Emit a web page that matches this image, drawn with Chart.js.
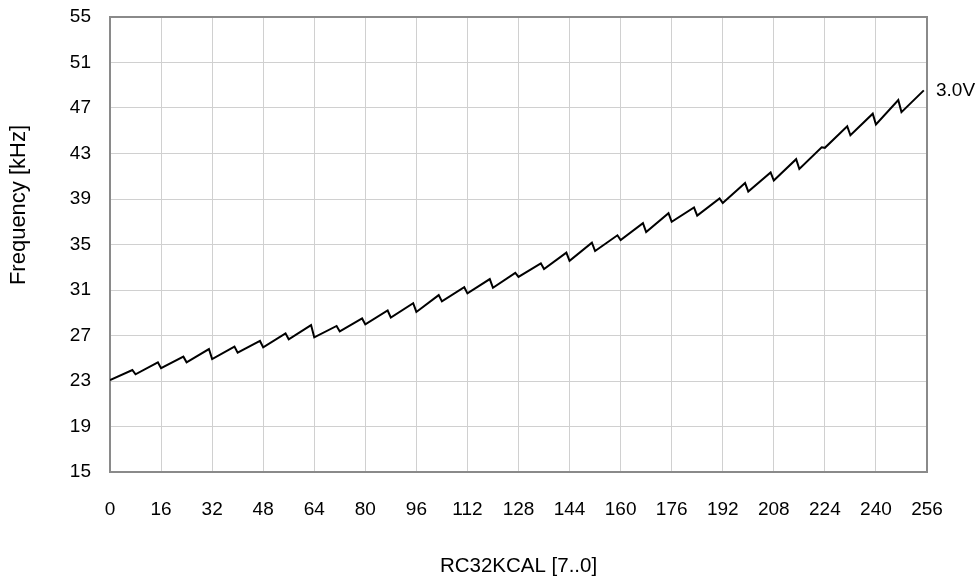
<!DOCTYPE html>
<html>
<head>
<meta charset="utf-8">
<script src="https://cdn.jsdelivr.net/npm/chart.js@4.4.0/dist/chart.umd.min.js"></script>
<style>
  html, body { margin: 0; padding: 0; background: #ffffff; }
  #wrap { width: 979px; height: 583px; position: relative; }
</style>
</head>
<body>
<div id="wrap"><canvas id="c"></canvas></div>
<script>
const codes = [0,7,8,15,16,23,24,31,32,39,40,47,48,55,56,63,64,71,72,79,80,87,88,95,96,103,104,111,112,119,120,127,128,135,136,143,144,151,152,159,160,167,168,175,176,183,184,191,192,199,200,207,208,215,216,223,224,231,232,239,240,247,248,255];
const freqKHz = [23.08,23.97,23.59,24.64,24.12,25.14,24.64,25.81,24.93,26.02,25.49,26.52,25.96,27.19,26.67,27.92,26.84,27.84,27.36,28.5,27.98,29.2,28.57,29.84,29.07,30.55,30.0,31.24,30.7,31.96,31.2,32.5,32.15,33.34,32.84,34.28,33.57,35.16,34.43,35.81,35.4,36.87,36.1,37.75,37.0,38.25,37.54,39.05,38.64,40.4,39.66,41.33,40.62,42.5,41.64,43.55,43.5,45.4,44.6,46.5,45.55,47.7,46.64,48.55];
const seriesLabel = '3.0V';
const xTicks = [0,16,32,48,64,80,96,112,128,144,160,176,192,208,224,240,256];
const yTicks = [15,19,23,27,31,35,39,43,47,51,55];
const xTitle = 'RC32KCAL [7..0]';
const yTitle = 'Frequency [kHz]';

const points = codes.map((c, i) => ({ x: c, y: freqKHz[i] }));
const FONT = "'Liberation Sans', Arial, sans-serif";

const frameAndLabel = {
  id: 'frameAndLabel',
  beforeDatasetsDraw(chart) {
    const { ctx, chartArea: a } = chart;
    ctx.save();
    ctx.strokeStyle = '#8a8a8a';
    ctx.lineWidth = 2;
    ctx.strokeRect(a.left, a.top, a.right - a.left, a.bottom - a.top);
    ctx.restore();
  },
  afterDatasetsDraw(chart) {
    const { ctx, chartArea: a, scales } = chart;
    const last = points[points.length - 1];
    const y = scales.y.getPixelForValue(last.y);
    ctx.save();
    ctx.fillStyle = '#000000';
    ctx.font = "19px " + FONT;
    ctx.textAlign = 'left';
    ctx.textBaseline = 'middle';
    ctx.fillText(seriesLabel, a.right + 9, y);
    ctx.restore();
    // vertical axis title (placed above the plot's mid-height, as in the reference)
    ctx.save();
    ctx.translate(19, 205);
    ctx.rotate(-Math.PI / 2);
    ctx.fillStyle = '#000000';
    ctx.font = "22px " + FONT;
    ctx.textAlign = 'center';
    ctx.textBaseline = 'middle';
    ctx.fillText(yTitle, 0, 0);
    ctx.restore();
  }
};

new Chart(document.getElementById('c'), {
  type: 'line',
  data: {
    datasets: [{
      label: seriesLabel,
      data: points,
      borderColor: '#000000',
      borderWidth: 2,
      pointRadius: 0,
      tension: 0,
      fill: false
    }]
  },
  options: {
    responsive: true,
    maintainAspectRatio: false,
    animation: false,
    devicePixelRatio: 1,
    layout: { padding: { top: 17, right: 52, left: 0, bottom: 0 } },
    plugins: { legend: { display: false }, tooltip: { enabled: false } },
    scales: {
      x: {
        type: 'linear',
        min: 0, max: 256,
        afterBuildTicks(scale) { scale.ticks = xTicks.map(v => ({ value: v })); },
        afterFit(scale) { scale.height = 111; scale.paddingLeft = 0; scale.paddingRight = 0; },
        grid: { color: '#d0d0d0', lineWidth: 1, drawTicks: false },
        border: { display: false },
        ticks: { color: '#000000', padding: 26, maxRotation: 0, autoSkip: false, font: { family: FONT, size: 19 } },
        title: { display: true, text: xTitle, color: '#000000', padding: { top: 0, bottom: 4 }, font: { family: FONT, size: 20.5 } }
      },
      y: {
        type: 'linear',
        min: 15, max: 55,
        afterBuildTicks(scale) { scale.ticks = yTicks.map(v => ({ value: v })); },
        afterFit(scale) { scale.width = 110; scale.paddingTop = 0; scale.paddingBottom = 0; },
        grid: { color: '#d0d0d0', lineWidth: 1, drawTicks: false },
        border: { display: false },
        ticks: { color: '#000000', padding: 19, autoSkip: false, font: { family: FONT, size: 19 } },
        title: { display: false, text: yTitle }
      }
    }
  },
  plugins: [frameAndLabel]
});
</script>
</body>
</html>
